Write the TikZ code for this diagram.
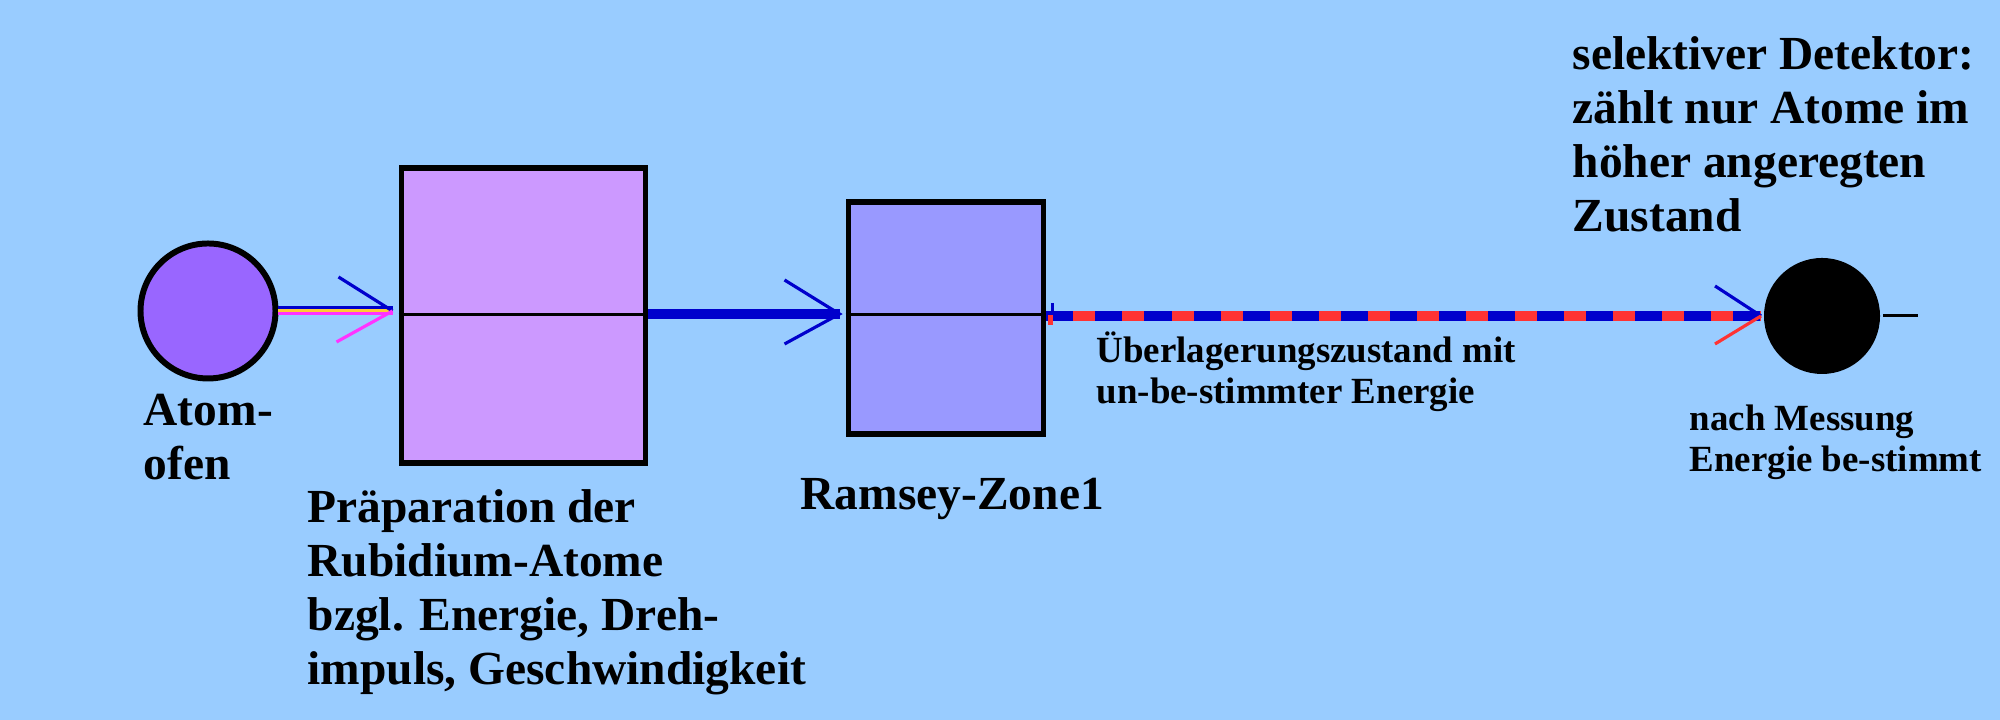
\documentclass[tikz,border=0pt]{standalone}
\usepackage{fontspec}
\setmainfont{Liberation Serif}
\usetikzlibrary{positioning}
\definecolor{himmel}{HTML}{99CCFF}
\definecolor{ofenlila}{HTML}{9966FF}
\definecolor{praeplila}{HTML}{CC99FF}
\definecolor{ramseyblau}{HTML}{9999FF}
\definecolor{strahlblau}{HTML}{0000CC}
\definecolor{strahlrot}{HTML}{FF3333}
\definecolor{strahlrosa}{HTML}{FF33FF}
\definecolor{strahlgelb}{HTML}{FFCC33}
\tikzset{%
  kasten/.style={rectangle, draw=black, line width=1.7pt, inner sep=0pt},
  kugel/.style={circle, draw=black, line width=1.7pt, inner sep=0pt},
  arm/.style={line width=0.9pt},
  dick/.style={line width=2.85pt},
  gross/.style={font=\fontsize{13.5}{15.4}\selectfont\bfseries, align=left, anchor=base west, inner sep=0pt},
  klein/.style={font=\fontsize{10.5}{11.8}\selectfont\bfseries, align=left, anchor=base west, inner sep=0pt}
}

\begin{document}
\begin{tikzpicture}
  \useasboundingbox (0,0) rectangle (20,7.2);
  \fill[himmel] (0,0) rectangle (20,7.2);
  \coordinate (achse) at (0,4.055);
  \node[kugel, fill=ofenlila, minimum size=1.35cm] (ofen) at (2.08,4.09) {};
  \node[kasten, fill=praeplila, minimum width=2.44cm, minimum height=2.95cm] (praep) at (5.235,4.04) {};
  \node[kasten, fill=ramseyblau, minimum width=1.95cm, minimum height=2.32cm] (ramsey) at (9.46,4.015) {};
  \node[kugel, fill=black, draw=none, minimum size=1.16cm] (det) at (18.22,4.04) {};
  \draw[line width=0.85pt] (praep.west |- achse) -- (praep.east |- achse);
  \draw[line width=0.85pt] (ramsey.west |- achse) -- (ramsey.east |- achse);

  % Ofen -> Praeparation
  \coordinate (spitze1) at ([xshift=-0.06cm]praep.west |- ofen.east);
  \draw[line width=0.85pt, strahlblau] ([yshift=0.03cm]ofen.east) -- ([yshift=0.03cm]spitze1);
  \draw[line width=0.85pt, strahlgelb] (ofen.east) -- (spitze1);
  \draw[line width=0.85pt, strahlrosa] ([yshift=-0.03cm]ofen.east) -- ([yshift=-0.03cm]spitze1);
  \coordinate [above left=0.34cm and 0.54cm of spitze1] (arm1o);
  \coordinate [below left=0.31cm and 0.56cm of spitze1] (arm1u);
  \draw[arm, strahlblau] (arm1o) -- (spitze1);
  \draw[arm, strahlrosa] (arm1u) -- (spitze1);

  % Praeparation -> Ramsey
  \coordinate (spitze2) at ([xshift=-0.06cm]ramsey.west |- 0,4.06);
  \draw[dick, strahlblau] (praep.east |- spitze2) -- (spitze2);
  \coordinate [above left=0.34cm and 0.55cm of spitze2] (arm2o);
  \coordinate [below left=0.30cm and 0.55cm of spitze2] (arm2u);
  \draw[arm, strahlblau] (arm2o) -- (spitze2) -- (arm2u);

  % Ramsey -> Detektor
  \coordinate (anfang) at (ramsey.east |- det);
  \draw[dick, strahlblau] (anfang) -- (det.west);
  \draw[dick, strahlrot, dash pattern=on 2.2mm off 2.7mm, dash phase=2.2mm] (anfang) -- (det.west);
  \draw[line width=0.9pt, strahlblau] ([xshift=0.06cm, yshift=0.13cm]anfang) -- ([xshift=0.06cm, yshift=0.05cm]anfang);
  \draw[line width=1.4pt, strahlrot] ([xshift=0.04cm, yshift=0.01cm]anfang) -- ([xshift=0.04cm, yshift=-0.09cm]anfang);
  \coordinate [above left=0.30cm and 0.46cm of det.west] (arm3o);
  \coordinate [below left=0.28cm and 0.46cm of det.west] (arm3u);
  \draw[arm, strahlblau] (arm3o) -- (det.west);
  \draw[arm, strahlrot] (arm3u) -- (det.west);
  \coordinate [right=0.35cm of det] (detende);
  \draw[line width=0.85pt] (det.east) -- (detende);

  % Beschriftung (Grundlinie der letzten Zeile)
  \node[gross] (t-ofen) at (1.43,2.40) {Atom-\\ofen};
  \node[gross] (t-praep) at (3.07,0.35) {Präparation der\\Rubidium-Atome\\bzgl. Energie, Dreh-\\impuls, Geschwindigkeit};
  \node[gross] (t-ramsey) at (8.00,2.10) {Ramsey-Zone1};
  \node[klein] (t-ueber) at (10.96,3.16) {Überlagerungszustand mit\\un-be-stimmter Energie};
  \node[klein] (t-mess) at (16.89,2.48) {nach Messung\\Energie be-stimmt};
  \node[gross] (t-det) at (15.72,4.88) {selektiver Detektor:\\zählt nur Atome im\\höher angeregten\\Zustand};
\end{tikzpicture}
\end{document}
